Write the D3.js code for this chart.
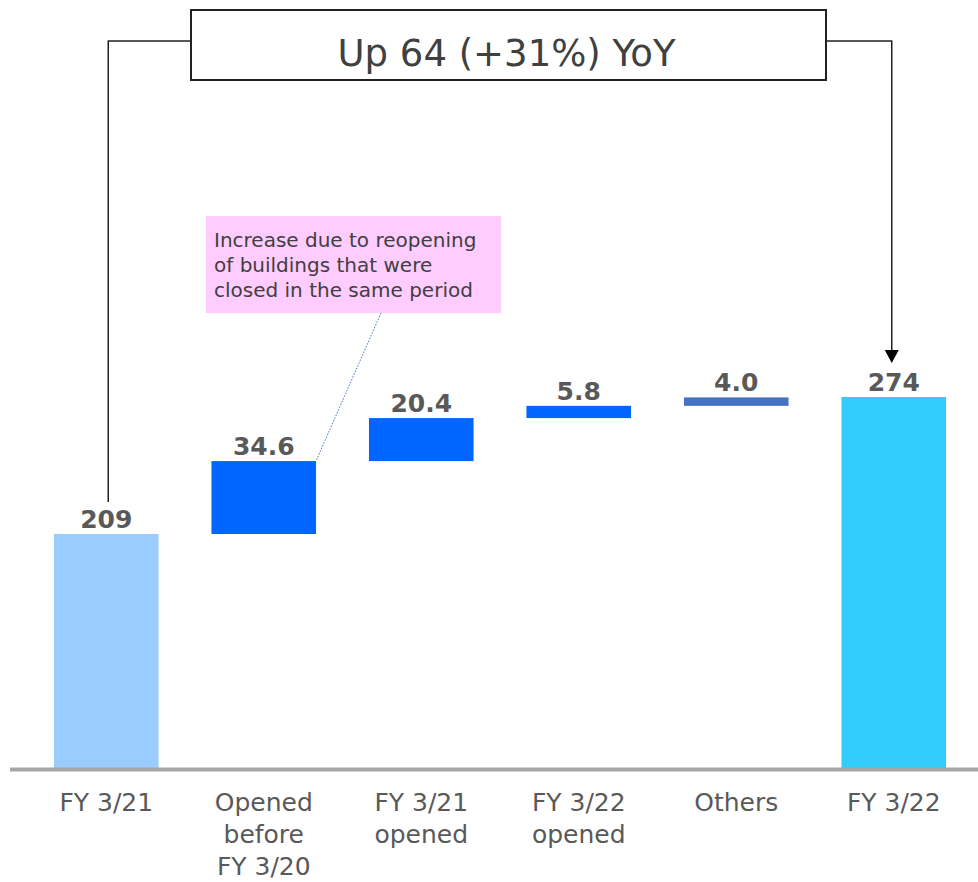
<!DOCTYPE html>
<html>
<head>
<meta charset="utf-8">
<script src="https://cdn.jsdelivr.net/npm/d3@7"></script>
<style>
  body { margin: 0; background: #fff; }
  svg { display: block; font-family: "DejaVu Sans", Verdana, sans-serif; }
</style>
</head>
<body>
<svg id="chart"></svg>
<script>
// data
const categories = ["FY 3/21", "Opened before FY 3/20", "FY 3/21 opened", "FY 3/22 opened", "Others", "FY 3/22"];
const categoryLines = [["FY 3/21"], ["Opened", "before", "FY 3/20"], ["FY 3/21", "opened"], ["FY 3/22", "opened"], ["Others"], ["FY 3/22"]];
const values = [209, 34.6, 20.4, 5.8, 4.0, 274];
const valueLabels = ["209", "34.6", "20.4", "5.8", "4.0", "274"];
const barKinds = ["total", "step", "step", "step", "other", "total2"];
const headline = "Up 64 (+31%) YoY";
const noteLines = ["Increase due to reopening", "of buildings that were", "closed in the same period"];

const width = 978, height = 882;
const yMin = 97.5;   // axis does not start at zero
const colors = {total: "#99CCFF", step: "#0066FF", other: "#4472C4", total2: "#33CCFF"};

const svg = d3.select("#chart").attr("width", width).attr("height", height);

// build waterfall rows
let running = 0;
const rows = categories.map((c, i) => {
    let lo, hi;
    if (barKinds[i] === "total" || barKinds[i] === "total2") {
        lo = yMin; hi = values[i]; running = values[i];
    } else {
        lo = running; hi = running + values[i]; running = hi;
    }
    return {cat: c, lo: lo, hi: hi, kind: barKinds[i], label: valueLabels[i], lines: categoryLines[i]};
});

// scales
const x = d3.scaleBand()
    .domain(categories)
    .range([27.5, 972.5])
    .paddingInner(0.336)
    .paddingOuter(0.168);
const y = d3.scaleLinear()
    .domain([yMin, 274])
    .range([769, 397]);

// bars
svg.append("g").selectAll("rect")
    .data(rows)
    .enter().append("rect")
    .attr("x", d => x(d.cat))
    .attr("width", x.bandwidth())
    .attr("y", d => y(d.hi))
    .attr("height", d => y(d.lo) - y(d.hi))
    .attr("fill", d => colors[d.kind]);

// value labels
svg.append("g").selectAll("text")
    .data(rows)
    .enter().append("text")
    .attr("x", d => x(d.cat) + x.bandwidth() / 2)
    .attr("y", d => y(d.hi) - 6)
    .attr("text-anchor", "middle")
    .attr("font-size", 25)
    .attr("font-weight", "bold")
    .attr("fill", "#595959")
    .text(d => d.label);

// baseline
svg.append("line")
    .attr("x1", 10).attr("x2", width)
    .attr("y1", y(yMin) + 0.5).attr("y2", y(yMin) + 0.5)
    .attr("stroke", "#A6A6A6")
    .attr("stroke-width", 4);

// category labels
const catG = svg.append("g").selectAll("text")
    .data(rows)
    .enter().append("text")
    .attr("text-anchor", "middle")
    .attr("font-size", 25)
    .attr("fill", "#595959");
catG.selectAll("tspan")
    .data(d => d.lines.map(l => ({l: l, cx: x(d.cat) + x.bandwidth() / 2})))
    .enter().append("tspan")
    .attr("x", d => d.cx)
    .attr("y", (d, i) => 811 + i * 32)
    .text(d => d.l);

// headline box and connectors
const boxL = 191, boxR = 826, boxT = 10, boxB = 80;
svg.append("rect")
    .attr("x", boxL).attr("y", boxT)
    .attr("width", boxR - boxL).attr("height", boxB - boxT)
    .attr("fill", "#fff").attr("stroke", "#222").attr("stroke-width", 2);
svg.append("text")
    .attr("x", (boxL + boxR) / 2 - 2)
    .attr("y", 66)
    .attr("text-anchor", "middle")
    .attr("font-size", 37)
    .attr("fill", "#404040")
    .text(headline);

const cxFirst = x(categories[0]) + x.bandwidth() / 2 + 2;
const cxLast = x(categories[5]) + x.bandwidth() / 2 - 2;
svg.append("path")
    .attr("d", `M${boxL},41H${cxFirst}V${y(values[0]) - 32}`)
    .attr("fill", "none").attr("stroke", "#222").attr("stroke-width", 1.5);
svg.append("path")
    .attr("d", `M${boxR},41H${cxLast}V${y(values[5]) - 47}`)
    .attr("fill", "none").attr("stroke", "#222").attr("stroke-width", 1.5);
svg.append("path")
    .attr("d", `M${cxLast - 7},${y(values[5]) - 47}L${cxLast + 7},${y(values[5]) - 47}L${cxLast},${y(values[5]) - 34}Z`)
    .attr("fill", "#000");

// annotation note
const noteX = 206, noteY = 216, noteW = 295, noteH = 97;
svg.append("line")
    .attr("x1", 381).attr("y1", noteY + noteH)
    .attr("x2", x(categories[1]) + x.bandwidth()).attr("y2", y(rows[1].hi))
    .attr("stroke", "#4472C4").attr("stroke-width", 1)
    .attr("stroke-dasharray", "1.5,1.5");
svg.append("rect")
    .attr("x", noteX).attr("y", noteY)
    .attr("width", noteW).attr("height", noteH)
    .attr("fill", "#FFCCFF");
svg.append("text")
    .attr("font-size", 20)
    .attr("fill", "#404040")
    .selectAll("tspan")
    .data(noteLines)
    .enter().append("tspan")
    .attr("x", noteX + 8)
    .attr("y", (d, i) => 247 + i * 25)
    .text(d => d);
</script>
</body>
</html>
